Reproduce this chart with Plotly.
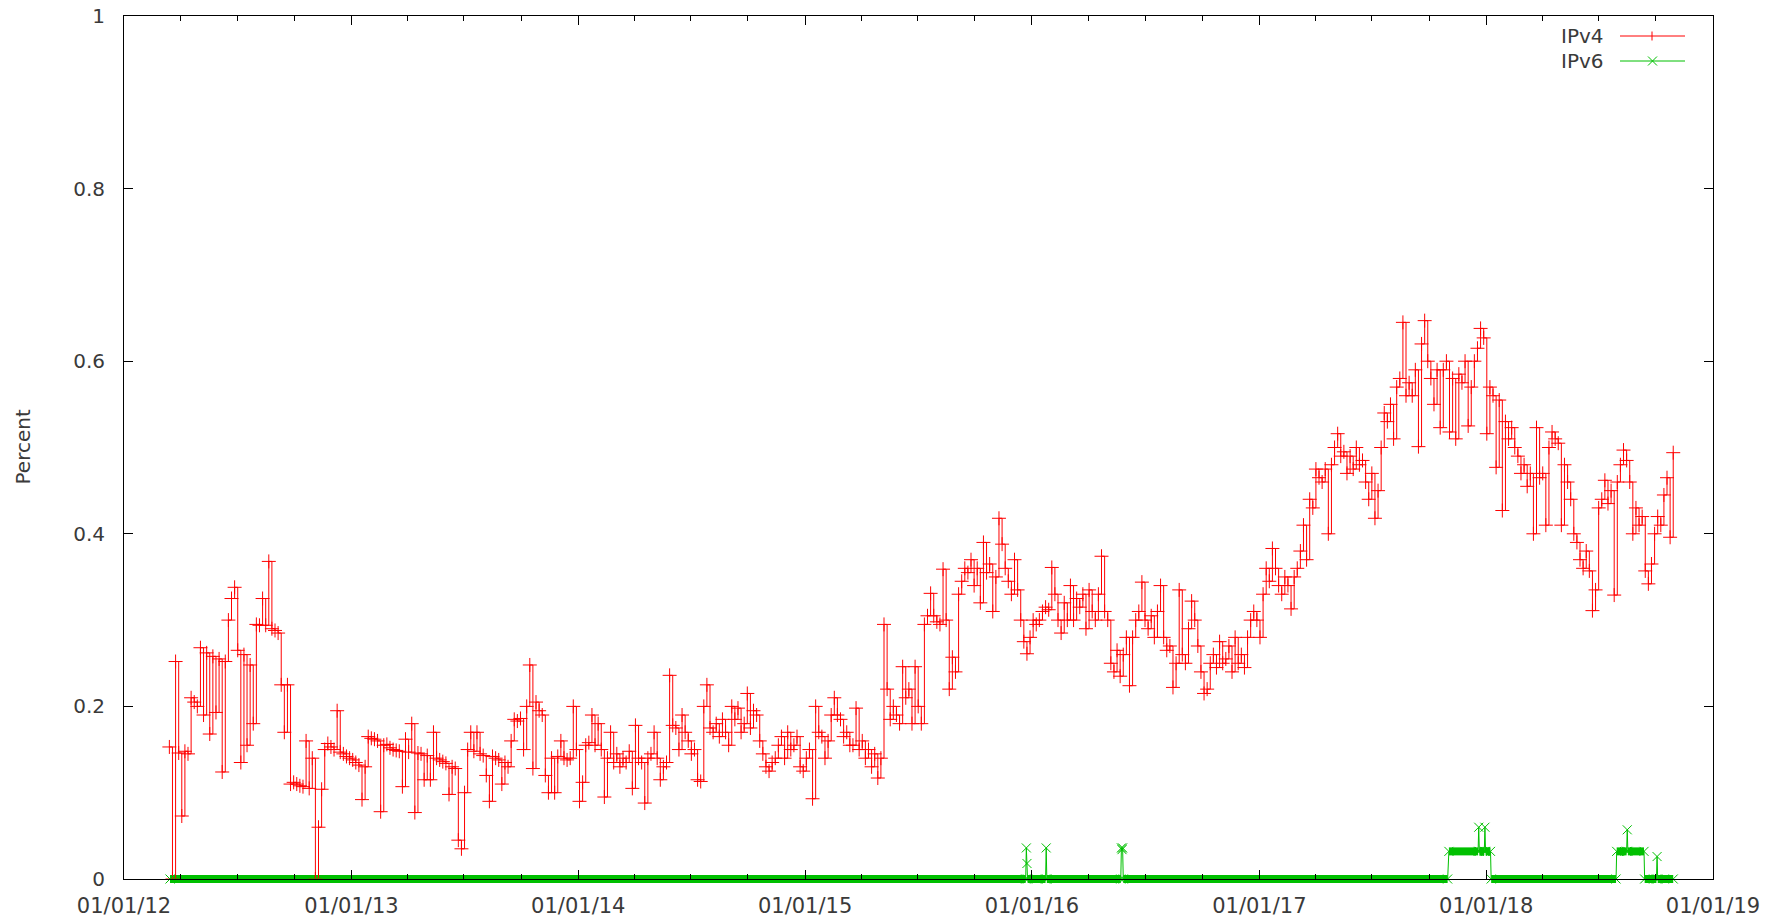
import pandas as pd
import plotly.graph_objects as go

# ---------------- data ----------------
x_range = ["2012-01-01", "2019-01-01"]
x_tick_dates = ["2012-01-01", "2013-01-01", "2014-01-01", "2015-01-01",
                "2016-01-01", "2017-01-01", "2018-01-01", "2019-01-01"]
x_tick_labels = ["01/01/12", "01/01/13", "01/01/14", "01/01/15",
                 "01/01/16", "01/01/17", "01/01/18", "01/01/19"]
y_ticks = [0, 0.2, 0.4, 0.6, 0.8, 1]
y_tick_labels = ["0", "0.2", "0.4", "0.6", "0.8", "1"]

# IPv4: one reading every 5 days starting 2012-03-14
ipv4_start = "2012-03-14"
ipv4_step_days = 5
ipv4_values = [
    0.153, 0.0, 0.252, 0.146, 0.073, 0.148, 0.145, 0.21, 0.205, 0.20,
    0.268, 0.19, 0.262, 0.168, 0.258, 0.193, 0.255, 0.124, 0.252, 0.30,
    0.325, 0.338, 0.265, 0.135, 0.26, 0.155, 0.248, 0.18, 0.295, 0.294,
    0.325, 0.294, 0.368, 0.29, 0.288, 0.285, 0.225, 0.17, 0.225, 0.11,
    0.112, 0.11, 0.108, 0.107, 0.16, 0.105, 0.14, 0.0, 0.06, 0.104,
    0.15, 0.157, 0.153, 0.15, 0.195, 0.147, 0.145, 0.142, 0.14, 0.138,
    0.135, 0.132, 0.092, 0.13, 0.165, 0.163, 0.162, 0.16, 0.078, 0.155,
    0.156, 0.152, 0.15, 0.149, 0.148, 0.107, 0.162, 0.147, 0.18, 0.077,
    0.146, 0.145, 0.115, 0.143, 0.115, 0.17, 0.14, 0.138, 0.136, 0.134,
    0.098, 0.13, 0.128, 0.045, 0.035, 0.1, 0.15, 0.17, 0.148, 0.17,
    0.145, 0.143, 0.12, 0.09, 0.142, 0.14, 0.138, 0.11, 0.135, 0.13,
    0.16, 0.185, 0.183, 0.186, 0.15, 0.2, 0.248, 0.128, 0.205, 0.195,
    0.19, 0.12, 0.1, 0.14, 0.1, 0.142, 0.16, 0.14, 0.138, 0.14,
    0.2, 0.15, 0.09, 0.112, 0.155, 0.158, 0.19, 0.155, 0.18, 0.15,
    0.095, 0.14, 0.17, 0.135, 0.145, 0.13, 0.14, 0.135, 0.148, 0.105,
    0.178, 0.14, 0.135, 0.088, 0.14, 0.145, 0.17, 0.14, 0.115, 0.13,
    0.135, 0.236, 0.178, 0.175, 0.15, 0.19, 0.17, 0.16, 0.145, 0.15,
    0.115, 0.113, 0.2, 0.225, 0.175, 0.17, 0.18, 0.165, 0.185, 0.17,
    0.155, 0.2, 0.185, 0.198, 0.17, 0.18, 0.215, 0.175, 0.195, 0.19,
    0.16, 0.145, 0.13, 0.125, 0.135, 0.14, 0.155, 0.165, 0.14, 0.17,
    0.15, 0.155, 0.165, 0.13, 0.125, 0.14, 0.15, 0.093, 0.2, 0.17,
    0.165, 0.14, 0.16, 0.19, 0.21, 0.19, 0.185, 0.165, 0.17, 0.155,
    0.155, 0.198, 0.15, 0.16, 0.14, 0.15, 0.13, 0.145, 0.117, 0.14,
    0.295, 0.22, 0.185, 0.2, 0.19, 0.18, 0.246, 0.21, 0.22, 0.18,
    0.246, 0.2, 0.18, 0.295, 0.305, 0.331, 0.305, 0.298, 0.295, 0.359,
    0.3, 0.22, 0.257, 0.24, 0.33, 0.345, 0.36, 0.355, 0.37, 0.34,
    0.36, 0.32, 0.39, 0.355, 0.365, 0.31, 0.35, 0.418, 0.388, 0.36,
    0.345, 0.33, 0.37, 0.335, 0.3, 0.275, 0.261, 0.28, 0.3, 0.295,
    0.3, 0.31, 0.315, 0.312, 0.361, 0.33, 0.3, 0.285, 0.32, 0.3,
    0.34, 0.3, 0.325, 0.315, 0.33, 0.29, 0.335, 0.31, 0.3, 0.33,
    0.374, 0.31, 0.3, 0.25, 0.24, 0.265, 0.235, 0.26, 0.28, 0.224,
    0.28, 0.3, 0.31, 0.344, 0.3, 0.29, 0.305, 0.28, 0.31, 0.34,
    0.28, 0.265, 0.27, 0.222, 0.25, 0.335, 0.26, 0.25, 0.29, 0.322,
    0.3, 0.27, 0.24, 0.215, 0.22, 0.25, 0.26, 0.245, 0.275, 0.25,
    0.255, 0.27, 0.24, 0.28, 0.25, 0.26, 0.245, 0.28, 0.3, 0.31,
    0.3, 0.28, 0.33, 0.36, 0.345, 0.383, 0.36, 0.34, 0.33, 0.35,
    0.34, 0.313, 0.35, 0.36, 0.38, 0.41, 0.37, 0.44, 0.43, 0.475,
    0.465, 0.46, 0.475, 0.4, 0.48, 0.5, 0.516, 0.49, 0.495, 0.47,
    0.49, 0.475, 0.5, 0.48, 0.485, 0.46, 0.44, 0.47, 0.418, 0.45,
    0.5, 0.54, 0.53, 0.55, 0.51, 0.57, 0.58, 0.645, 0.56, 0.575,
    0.56, 0.59, 0.501, 0.62, 0.647, 0.6, 0.58, 0.55, 0.59, 0.523,
    0.59, 0.6, 0.518, 0.58, 0.51, 0.585, 0.575, 0.6, 0.525, 0.57,
    0.6, 0.615, 0.638, 0.627, 0.516, 0.57, 0.56, 0.477, 0.555, 0.427,
    0.53, 0.51, 0.523, 0.5, 0.49, 0.47, 0.48, 0.455, 0.47, 0.4,
    0.523, 0.465, 0.47, 0.41, 0.5, 0.518, 0.51, 0.505, 0.41, 0.48,
    0.46, 0.44, 0.4, 0.39, 0.37, 0.36, 0.38, 0.357, 0.311, 0.335,
    0.43, 0.44, 0.462, 0.435, 0.45, 0.329, 0.46, 0.48, 0.497, 0.485,
    0.46, 0.4, 0.43, 0.41, 0.42, 0.357, 0.342, 0.365, 0.4, 0.42,
    0.41, 0.445, 0.465, 0.396, 0.494,
]

# IPv6: readings where the level changes
ipv6_dates = [
    "2012-03-15", "2015-12-22", "2015-12-23", "2015-12-24", "2015-12-25",
    "2016-01-23", "2016-01-24", "2016-01-25",
    "2016-05-23", "2016-05-24", "2016-05-25", "2016-05-26", "2016-05-27",
    "2017-10-31", "2017-11-02", "2017-12-19", "2017-12-20", "2017-12-21",
    "2017-12-29", "2017-12-30", "2017-12-31", "2018-01-08", "2018-01-09",
    "2018-07-29", "2018-07-30", "2018-08-15", "2018-08-16", "2018-08-17",
    "2018-09-12", "2018-09-13", "2018-10-02", "2018-10-03", "2018-10-04",
    "2018-10-29",
]
ipv6_values = [
    0.0, 0.0, 0.036, 0.018, 0.0,
    0.0, 0.036, 0.0,
    0.0, 0.036, 0.034, 0.036, 0.0,
    0.0, 0.032, 0.032, 0.06, 0.032,
    0.032, 0.06, 0.032, 0.032, 0.0,
    0.0, 0.032, 0.032, 0.057, 0.032,
    0.032, 0.0, 0.0, 0.026, 0.0,
    0.0,
]

# ---------------- derived ----------------
ipv4_dates = pd.date_range(ipv4_start, periods=len(ipv4_values),
                           freq=f"{ipv4_step_days}D")

RED = "#ff0000"
GREEN = "#00c000"
FONT = "DejaVu Sans"
TXT = "#3a3a3a"

L, R, T, B = 124, 52, 16, 38
W, H = 1765, 917
pw, ph = W - L - R, H - T - B


def px(xpix):
    return (xpix - L) / pw


def py(ypix):
    return (H - B - ypix) / ph


shapes = []
annotations = []

# flat runs of the IPv6 series: daily points overlap into a thick band
runs = []
n6 = len(ipv6_values)
i = 0
while i < n6:
    j = i
    while j + 1 < n6 and ipv6_values[j + 1] == ipv6_values[i]:
        j += 1
    if j > i:
        runs.append((ipv6_dates[i], ipv6_dates[j], ipv6_values[i]))
    i = j + 1
half_band = 4.0 / ph
for d0, d1, v in runs:
    shapes.append(dict(type="rect", xref="x", yref="paper", x0=d0, x1=d1,
                       y0=v - half_band, y1=v + half_band, layer="below",
                       fillcolor=GREEN, line=dict(width=0)))

fig = go.Figure()
fig.add_trace(go.Scatter(
    x=ipv4_dates, y=ipv4_values, name="IPv4", mode="lines+markers",
    line=dict(color=RED, width=1, shape="hv"),
    marker=dict(symbol="cross-thin", size=10, line=dict(color=RED, width=1)),
    showlegend=False,
))
fig.add_trace(go.Scatter(
    x=ipv6_dates, y=ipv6_values, name="IPv6", mode="lines+markers",
    line=dict(color=GREEN, width=1),
    marker=dict(symbol="x-thin", size=9, line=dict(color=GREEN, width=1)),
    cliponaxis=False, showlegend=False,
))

legend_items = [("IPv4", RED, 36, "plus"), ("IPv6", GREEN, 61, "x")]
for label, col, ypx, mk in legend_items:
    shapes.append(dict(type="line", xref="paper", yref="paper",
                       x0=px(1620), x1=px(1685), y0=py(ypx), y1=py(ypx),
                       line=dict(color=col, width=1)))
    if mk == "plus":
        shapes.append(dict(type="line", xref="paper", yref="paper",
                           x0=px(1652), x1=px(1652), y0=py(ypx - 4.5), y1=py(ypx + 4.5),
                           line=dict(color=col, width=1)))
    else:
        shapes.append(dict(type="line", xref="paper", yref="paper",
                           x0=px(1648), x1=px(1657), y0=py(ypx - 4.5), y1=py(ypx + 4.5),
                           line=dict(color=col, width=1)))
        shapes.append(dict(type="line", xref="paper", yref="paper",
                           x0=px(1648), x1=px(1657), y0=py(ypx + 4.5), y1=py(ypx - 4.5),
                           line=dict(color=col, width=1)))
    annotations.append(dict(text=label, xref="paper", yref="paper",
                            x=px(1606), y=py(ypx), xanchor="right", yanchor="middle",
                            showarrow=False, font=dict(family=FONT, size=20, color=TXT)))

annotations.append(dict(text="Percent", xref="paper", yref="paper",
                        x=px(22), y=0.5, textangle=-90, xanchor="center",
                        yanchor="middle", showarrow=False,
                        font=dict(family=FONT, size=20, color=TXT)))

fig.update_layout(
    template="none",
    width=W, height=H, margin=dict(l=L, r=R, t=T, b=B, pad=0, autoexpand=False),
    plot_bgcolor="white", paper_bgcolor="white",
    font=dict(family=FONT, size=20, color=TXT),
    shapes=shapes, annotations=annotations, showlegend=False,
)
fig.update_xaxes(
    type="date", range=x_range, tickmode="array",
    tickvals=x_tick_dates, ticktext=x_tick_labels,
    tickfont=dict(family=FONT, size=21, color=TXT),
    ticks="inside", ticklen=9, tickcolor="black", tickwidth=1,
    showline=True, linecolor="black", linewidth=1, mirror="allticks",
    showgrid=False, zeroline=False, layer="above traces", automargin=False,
    ticklabelstandoff=8,
    minor=dict(ticks="inside", ticklen=5, dtick="M3", tick0="2012-01-01",
               tickcolor="black", showgrid=False),
)
fig.update_yaxes(
    range=[0, 1], tickmode="array", tickvals=y_ticks, ticktext=y_tick_labels,
    ticks="inside", ticklen=9, tickcolor="black", tickwidth=1,
    showline=True, linecolor="black", linewidth=1, mirror="allticks",
    showgrid=False, zeroline=False, layer="above traces", automargin=False,
    ticklabelstandoff=14,
)

fig.write_html("out.html", config={"displayModeBar": False},
               post_script="document.body.style.margin='0';")
